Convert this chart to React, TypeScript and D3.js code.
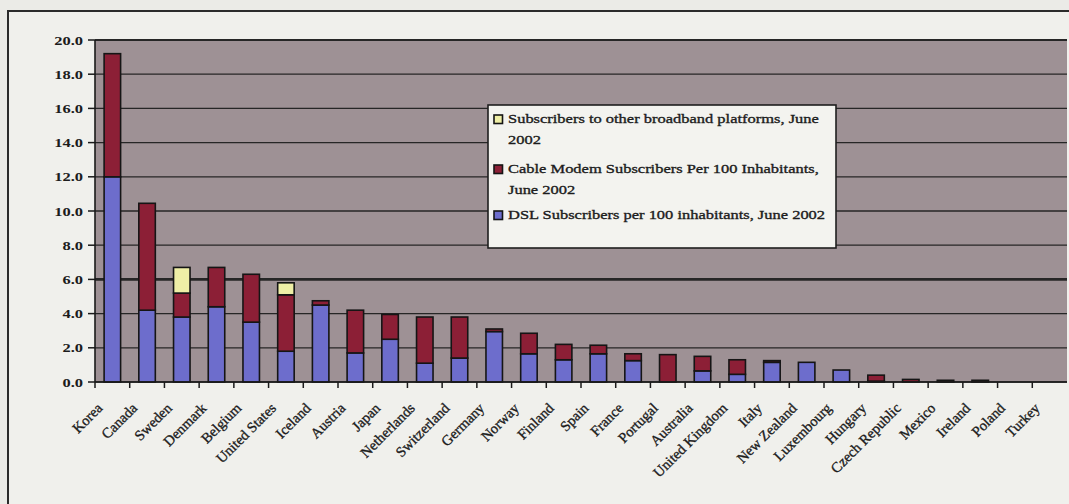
import React from "react";
import * as d3 from "d3";

// Broadband penetration by OECD country, June 2002 (subscribers per 100 inhabitants)
const countries = [
  "Korea", "Canada", "Sweden", "Denmark", "Belgium", "United States", "Iceland",
  "Austria", "Japan", "Netherlands", "Switzerland", "Germany", "Norway", "Finland",
  "Spain", "France", "Portugal", "Australia", "United Kingdom", "Italy",
  "New Zealand", "Luxembourg", "Hungary", "Czech Republic", "Mexico", "Ireland",
  "Poland", "Turkey",
];

const dslValues = [
  12.0, 4.2, 3.8, 4.4, 3.5, 1.8, 4.5, 1.7, 2.5, 1.1, 1.4, 2.95, 1.65, 1.3,
  1.65, 1.25, 0.0, 0.65, 0.45, 1.15, 1.15, 0.7, 0.05, 0.0, 0.0, 0.0, 0.0, 0.0,
];

const cableValues = [
  7.2, 6.25, 1.4, 2.3, 2.8, 3.3, 0.25, 2.5, 1.45, 2.7, 2.4, 0.15, 1.2, 0.9,
  0.5, 0.4, 1.6, 0.85, 0.85, 0.1, 0.0, 0.0, 0.35, 0.15, 0.1, 0.1, 0.0, 0.0,
];

const otherValues = [
  0.0, 0.0, 1.5, 0.0, 0.0, 0.7, 0.0, 0.0, 0.0, 0.0, 0.0, 0.0, 0.0, 0.0,
  0.0, 0.0, 0.0, 0.0, 0.0, 0.0, 0.0, 0.0, 0.0, 0.0, 0.0, 0.0, 0.0, 0.0,
];

const yTicks = [0, 2, 4, 6, 8, 10, 12, 14, 16, 18, 20];

const seriesKeys = ["dsl", "cable", "other"];
const seriesColors: Record<string, string> = {
  dsl: "#6d6dcc",
  cable: "#8c1f36",
  other: "#efefa6",
};

const legendEntries = [
  { key: "other", lines: ["Subscribers to other broadband platforms, June", "2002"] },
  { key: "cable", lines: ["Cable Modem Subscribers Per 100 Inhabitants,", "June 2002"] },
  { key: "dsl", lines: ["DSL Subscribers per 100 inhabitants, June 2002"] },
];

const W = 1069;
const H = 504;
const plot = { left: 95, right: 1067, top: 40, bottom: 382 };
const FONT = "'Liberation Serif', 'DejaVu Serif', serif";
const FS = 13.5;
const SX = 1.22; // horizontal stretch of the lettering

export default function App() {
  const rows = countries.map((c, i) => ({
    country: c,
    dsl: dslValues[i],
    cable: cableValues[i],
    other: otherValues[i],
  }));

  const x = d3
    .scaleBand<string>()
    .domain(countries)
    .range([plot.left, plot.right])
    .paddingInner(0.525)
    .paddingOuter(0.2625);

  const xb = d3.scaleBand<string>().domain(countries).range([plot.left, plot.right]);

  const y = d3.scaleLinear().domain([0, 20]).range([plot.bottom, plot.top]);

  const stacked = d3.stack<any>().keys(seriesKeys)(rows);

  const textFill = "#1c1c1c";

  return (
    <svg
      width={W}
      height={H}
      style={{ position: "absolute", left: 0, top: 0 }}
      xmlns="http://www.w3.org/2000/svg"
    >
      <rect x={0} y={0} width={W} height={H} fill="#ebebe7" />
      <rect x={8} y={11} width={W} height={H} fill="#f0f0ec" stroke="#2b2b2b" strokeWidth={2} />

      {/* plot area */}
      <rect
        x={plot.left}
        y={plot.top}
        width={plot.right - plot.left}
        height={plot.bottom - plot.top}
        fill="#9e9195"
      />

      {/* gridlines */}
      {yTicks.map((t) => (
        <line
          key={"g" + t}
          x1={plot.left}
          x2={plot.right}
          y1={y(t)}
          y2={y(t)}
          stroke="#262626"
          strokeWidth={t === 6 ? 2.6 : t === 20 ? 1.8 : 1.3}
        />
      ))}

      {/* stacked bars */}
      {stacked.map((layer) =>
        layer.map((d, i) => {
          const h = y(d[0]) - y(d[1]);
          if (h <= 0) return null;
          return (
            <rect
              key={layer.key + i}
              x={x(countries[i])}
              y={y(d[1])}
              width={x.bandwidth()}
              height={h}
              fill={seriesColors[layer.key]}
              stroke="#151515"
              strokeWidth={1.6}
            />
          );
        })
      )}

      {/* y axis */}
      <line x1={plot.left} x2={plot.left} y1={plot.top} y2={plot.bottom} stroke="#1a1a1a" strokeWidth={1.6} />
      {yTicks.map((t) => (
        <g key={"yt" + t}>
          <line x1={plot.left - 7} x2={plot.left} y1={y(t)} y2={y(t)} stroke="#1a1a1a" strokeWidth={1.5} />
          <text
            transform={`translate(${plot.left - 12},${y(t) + 4.5}) scale(${SX},1)`}
            textAnchor="end"
            fontFamily={FONT}
            fontSize={FS}
            fontWeight="bold"
            fill={textFill}
          >
            {t.toFixed(1)}
          </text>
        </g>
      ))}

      {/* x axis */}
      <line x1={plot.left} x2={plot.right} y1={plot.bottom} y2={plot.bottom} stroke="#1a1a1a" strokeWidth={1.6} />
      {countries.map((c) => (
        <line
          key={"xt" + c}
          x1={xb(c)!}
          x2={xb(c)!}
          y1={plot.bottom}
          y2={plot.bottom + 6}
          stroke="#1a1a1a"
          strokeWidth={1.5}
        />
      ))}
      {countries.map((c) => {
        const cx = xb(c)! + xb.bandwidth() / 2;
        return (
          <text
            key={"xl" + c}
            transform={`translate(${cx - 9},${plot.bottom + 27}) rotate(-45)`}
            textAnchor="end"
            fontFamily={FONT}
            fontSize={14.5}
            fill={textFill}
            stroke={textFill}
            strokeWidth={0.35}
          >
            {c}
          </text>
        );
      })}

      {/* legend */}
      <rect x={488} y={105} width={348} height={143} fill="#f3f3ef" stroke="#1e1e1e" strokeWidth={1.6} />
      {legendEntries.map((e, k) => {
        const baselines = [[123, 144], [173, 194], [219]][k];
        return (
          <g key={"lg" + e.key}>
            <rect
              x={494}
              y={baselines[0] - 8}
              width={8.5}
              height={8.5}
              fill={seriesColors[e.key]}
              stroke="#151515"
              strokeWidth={1.6}
            />
            {e.lines.map((ln, j) => (
              <text
                key={j}
                transform={`translate(508,${baselines[j]}) scale(${SX},1)`}
                fontFamily={FONT}
                fontSize={FS}
                fill={textFill}
                stroke={textFill}
                strokeWidth={0.35}
              >
                {ln}
              </text>
            ))}
          </g>
        );
      })}
    </svg>
  );
}
